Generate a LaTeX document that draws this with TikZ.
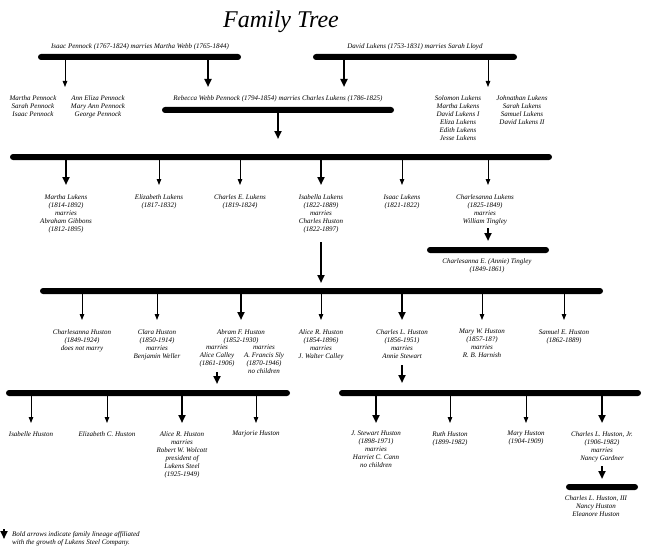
\documentclass[tikz,border=0pt]{standalone}
\usepackage{fontspec}
\setmainfont{Liberation Serif}
\usetikzlibrary{arrows.meta}
\begin{document}
\begin{tikzpicture}[x=1pt,y=-1pt,
  bar/.style={fill=black, rounded corners=3pt, minimum height=6pt, inner sep=0pt, draw=none},
  txt/.style={font=\itshape\fontsize{7}{8}\selectfont, align=center, inner sep=0pt, anchor=north, yshift=4pt},
  thinarr/.style={line width=0.9pt, -{Triangle[length=6pt,width=4.5pt]}},
  boldarr/.style={line width=2.2pt, -{Triangle[length=8pt,width=7pt]}}]
\fill[white] (0,0) rectangle (650,559);
\useasboundingbox (0,0) rectangle (650,559);

% title
\node[anchor=base, inner sep=0pt, font=\itshape\fontsize{24}{26}\selectfont] (title) at (281,28) {Family Tree};

% generation 1
\node[txt] (t1) at (140,47) {Isaac Pennock (1767-1824) marries Martha Webb (1765-1844)};
\node[txt] (t3) at (415,47) {David Lukens (1753-1831) marries Sarah Lloyd};
\node[txt] (p1) at (33,99) {Martha Pennock\\Sarah Pennock\\Isaac Pennock};
\node[txt] (p2) at (98,99) {Ann Eliza Pennock\\Mary Ann Pennock\\George Pennock};
\node[txt] (t2) at (278,99) {Rebecca Webb Pennock (1794-1854) marries Charles Lukens (1786-1825)};
\node[txt] (l1) at (458,99) {Solomon Lukens\\Martha Lukens\\David Lukens I\\Eliza Lukens\\Edith Lukens\\Jesse Lukens};
\node[txt] (l2) at (522,99) {Johnathan Lukens\\Sarah Lukens\\Samuel Lukens\\David Lukens II};

% generation 3
\node[txt] (g1) at (66,198) {Martha Lukens\\(1814-1892)\\marries\\Abraham Gibbons\\(1812-1895)};
\node[txt] (g2) at (159,198) {Elizabeth Lukens\\(1817-1832)};
\node[txt] (g3) at (240,198) {Charles E. Lukens\\(1819-1824)};
\node[txt] (g4) at (321,198) {Isabella Lukens\\(1822-1889)\\marries\\Charles Huston\\(1822-1897)};
\node[txt] (g5) at (402,198) {Isaac Lukens\\(1821-1822)};
\node[txt] (g6) at (485,198) {Charlesanna Lukens\\(1825-1849)\\marries\\William Tingley};
\node[txt] (tg) at (487,262) {Charlesanna E. (Annie) Tingley\\(1849-1861)};

% generation 4
\node[txt] (h1) at (82,333) {Charlesanna Huston\\(1849-1924)\\does not marry};
\node[txt] (h2) at (157,333) {Clara Huston\\(1850-1914)\\marries\\Benjamin Weller};
\node[txt] (h3) at (241,333) {Abram F. Huston\\(1852-1930)};
\node[txt] (h3a) at (217,349) {marries\\Alice Calley\\(1861-1906)};
\node[txt] (h3b) at (264,349) {marries\\A. Francis Sly\\(1870-1946)\\no children};
\node[txt] (h4) at (321,333) {Alice R. Huston\\(1854-1896)\\marries\\J. Walter Calley};
\node[txt] (h5) at (402,333) {Charles L. Huston\\(1856-1951)\\marries\\Annie Stewart};
\node[txt] (h6) at (482,333) {Mary W. Huston\\(1857-18?)\\marries\\R. B. Harnish};
\node[txt] (h7) at (564,333) {Samuel E. Huston\\(1862-1889)};

% generation 5
\node[txt] (k1) at (31,435) {Isabelle Huston};
\node[txt] (k2) at (107,435) {Elizabeth C. Huston};
\node[txt] (k3) at (182,435) {Alice R. Huston\\marries\\Robert W. Wolcott\\president of\\Lukens Steel\\(1925-1949)};
\node[txt] (k4) at (256,435) {Marjorie Huston};
\node[txt] (m1) at (376,435) {J. Stewart Huston\\(1898-1971)\\marries\\Harriet C. Cann\\no children};
\node[txt] (m2) at (450,435) {Ruth Huston\\(1899-1982)};
\node[txt] (m3) at (526,435) {Mary Huston\\(1904-1909)};
\node[txt] (m4) at (602,435) {Charles L. Huston, Jr.\\(1906-1982)\\marries\\Nancy Gardner};
\node[txt] (n1) at (596,499) {Charles L. Huston, III\\Nancy Huston\\Eleanore Huston};

% legend
\node[txt, anchor=north west, align=left] (leg) at (12,535) {Bold arrows indicate family lineage affiliated\\with the growth of Lukens Steel Company.};

% bars
\node[bar, minimum width=203pt] (bar1) at (139.5,57) {};
\node[bar, minimum width=232pt] (bar2) at (278,110) {};
\node[bar, minimum width=204pt] (bar3) at (415,57) {};
\node[bar, minimum width=542pt] (bar4) at (281,157) {};
\node[bar, minimum width=122pt] (bar5) at (488,250) {};
\node[bar, minimum width=563pt] (bar6) at (321.5,291) {};
\node[bar, minimum width=284pt] (bar7) at (148,393) {};
\node[bar, minimum width=302pt] (bar8) at (490,393) {};
\node[bar, minimum width=72pt] (bar9) at (602,487) {};

% arrow tips and starts
\coordinate (e1) at (65,87);  \coordinate (e2) at (208,87);
\coordinate (e3) at (344,87); \coordinate (e4) at (488,87);
\coordinate (e5) at (278,139);
\coordinate (f1) at (66,185); \coordinate (f2) at (159,185); \coordinate (f3) at (240,185);
\coordinate (f4) at (321,185); \coordinate (f5) at (402,185); \coordinate (f6) at (488,185);
\coordinate (s5) at (488,228); \coordinate (u5) at (488,241);
\coordinate (s6) at (321,242); \coordinate (u6) at (321,283);
\coordinate (q1) at (82,320); \coordinate (q2) at (157,320); \coordinate (q3) at (241,320);
\coordinate (q4) at (321,320); \coordinate (q5) at (402,320); \coordinate (q6) at (482,320);
\coordinate (q7) at (564,320);
\coordinate (s7) at (217,372); \coordinate (u7) at (217,384);
\coordinate (s8) at (402,365); \coordinate (u8) at (402,383);
\coordinate (r1) at (31,423); \coordinate (r2) at (107,423); \coordinate (r3) at (182,423);
\coordinate (r4) at (256,423); \coordinate (r5) at (376,423); \coordinate (r6) at (450,423);
\coordinate (r7) at (526,423); \coordinate (r8) at (602,423);
\coordinate (s9) at (602,466); \coordinate (u9) at (602,479);
\coordinate (ls) at (4,529); \coordinate (le) at (4,539);

% arrows from bars
\draw[thinarr] (e1 |- bar1.center) -- (e1);
\draw[boldarr] (e2 |- bar1.center) -- (e2);
\draw[boldarr] (e3 |- bar3.center) -- (e3);
\draw[thinarr] (e4 |- bar3.center) -- (e4);
\draw[boldarr] (e5 |- bar2.center) -- (e5);
\draw[boldarr] (f1 |- bar4.center) -- (f1);
\draw[thinarr] (f2 |- bar4.center) -- (f2);
\draw[thinarr] (f3 |- bar4.center) -- (f3);
\draw[boldarr] (f4 |- bar4.center) -- (f4);
\draw[thinarr] (f5 |- bar4.center) -- (f5);
\draw[thinarr] (f6 |- bar4.center) -- (f6);
\draw[boldarr] (s5) -- (u5);
\draw[boldarr] (s6) -- (u6);
\draw[thinarr] (q1 |- bar6.center) -- (q1);
\draw[thinarr] (q2 |- bar6.center) -- (q2);
\draw[boldarr] (q3 |- bar6.center) -- (q3);
\draw[thinarr] (q4 |- bar6.center) -- (q4);
\draw[boldarr] (q5 |- bar6.center) -- (q5);
\draw[thinarr] (q6 |- bar6.center) -- (q6);
\draw[thinarr] (q7 |- bar6.center) -- (q7);
\draw[boldarr] (s7) -- (u7);
\draw[boldarr] (s8) -- (u8);
\draw[thinarr] (r1 |- bar7.center) -- (r1);
\draw[thinarr] (r2 |- bar7.center) -- (r2);
\draw[boldarr] (r3 |- bar7.center) -- (r3);
\draw[thinarr] (r4 |- bar7.center) -- (r4);
\draw[boldarr] (r5 |- bar8.center) -- (r5);
\draw[thinarr] (r6 |- bar8.center) -- (r6);
\draw[thinarr] (r7 |- bar8.center) -- (r7);
\draw[boldarr] (r8 |- bar8.center) -- (r8);
\draw[boldarr] (s9) -- (u9);
\draw[boldarr] (ls) -- (le);
\end{tikzpicture}
\end{document}
